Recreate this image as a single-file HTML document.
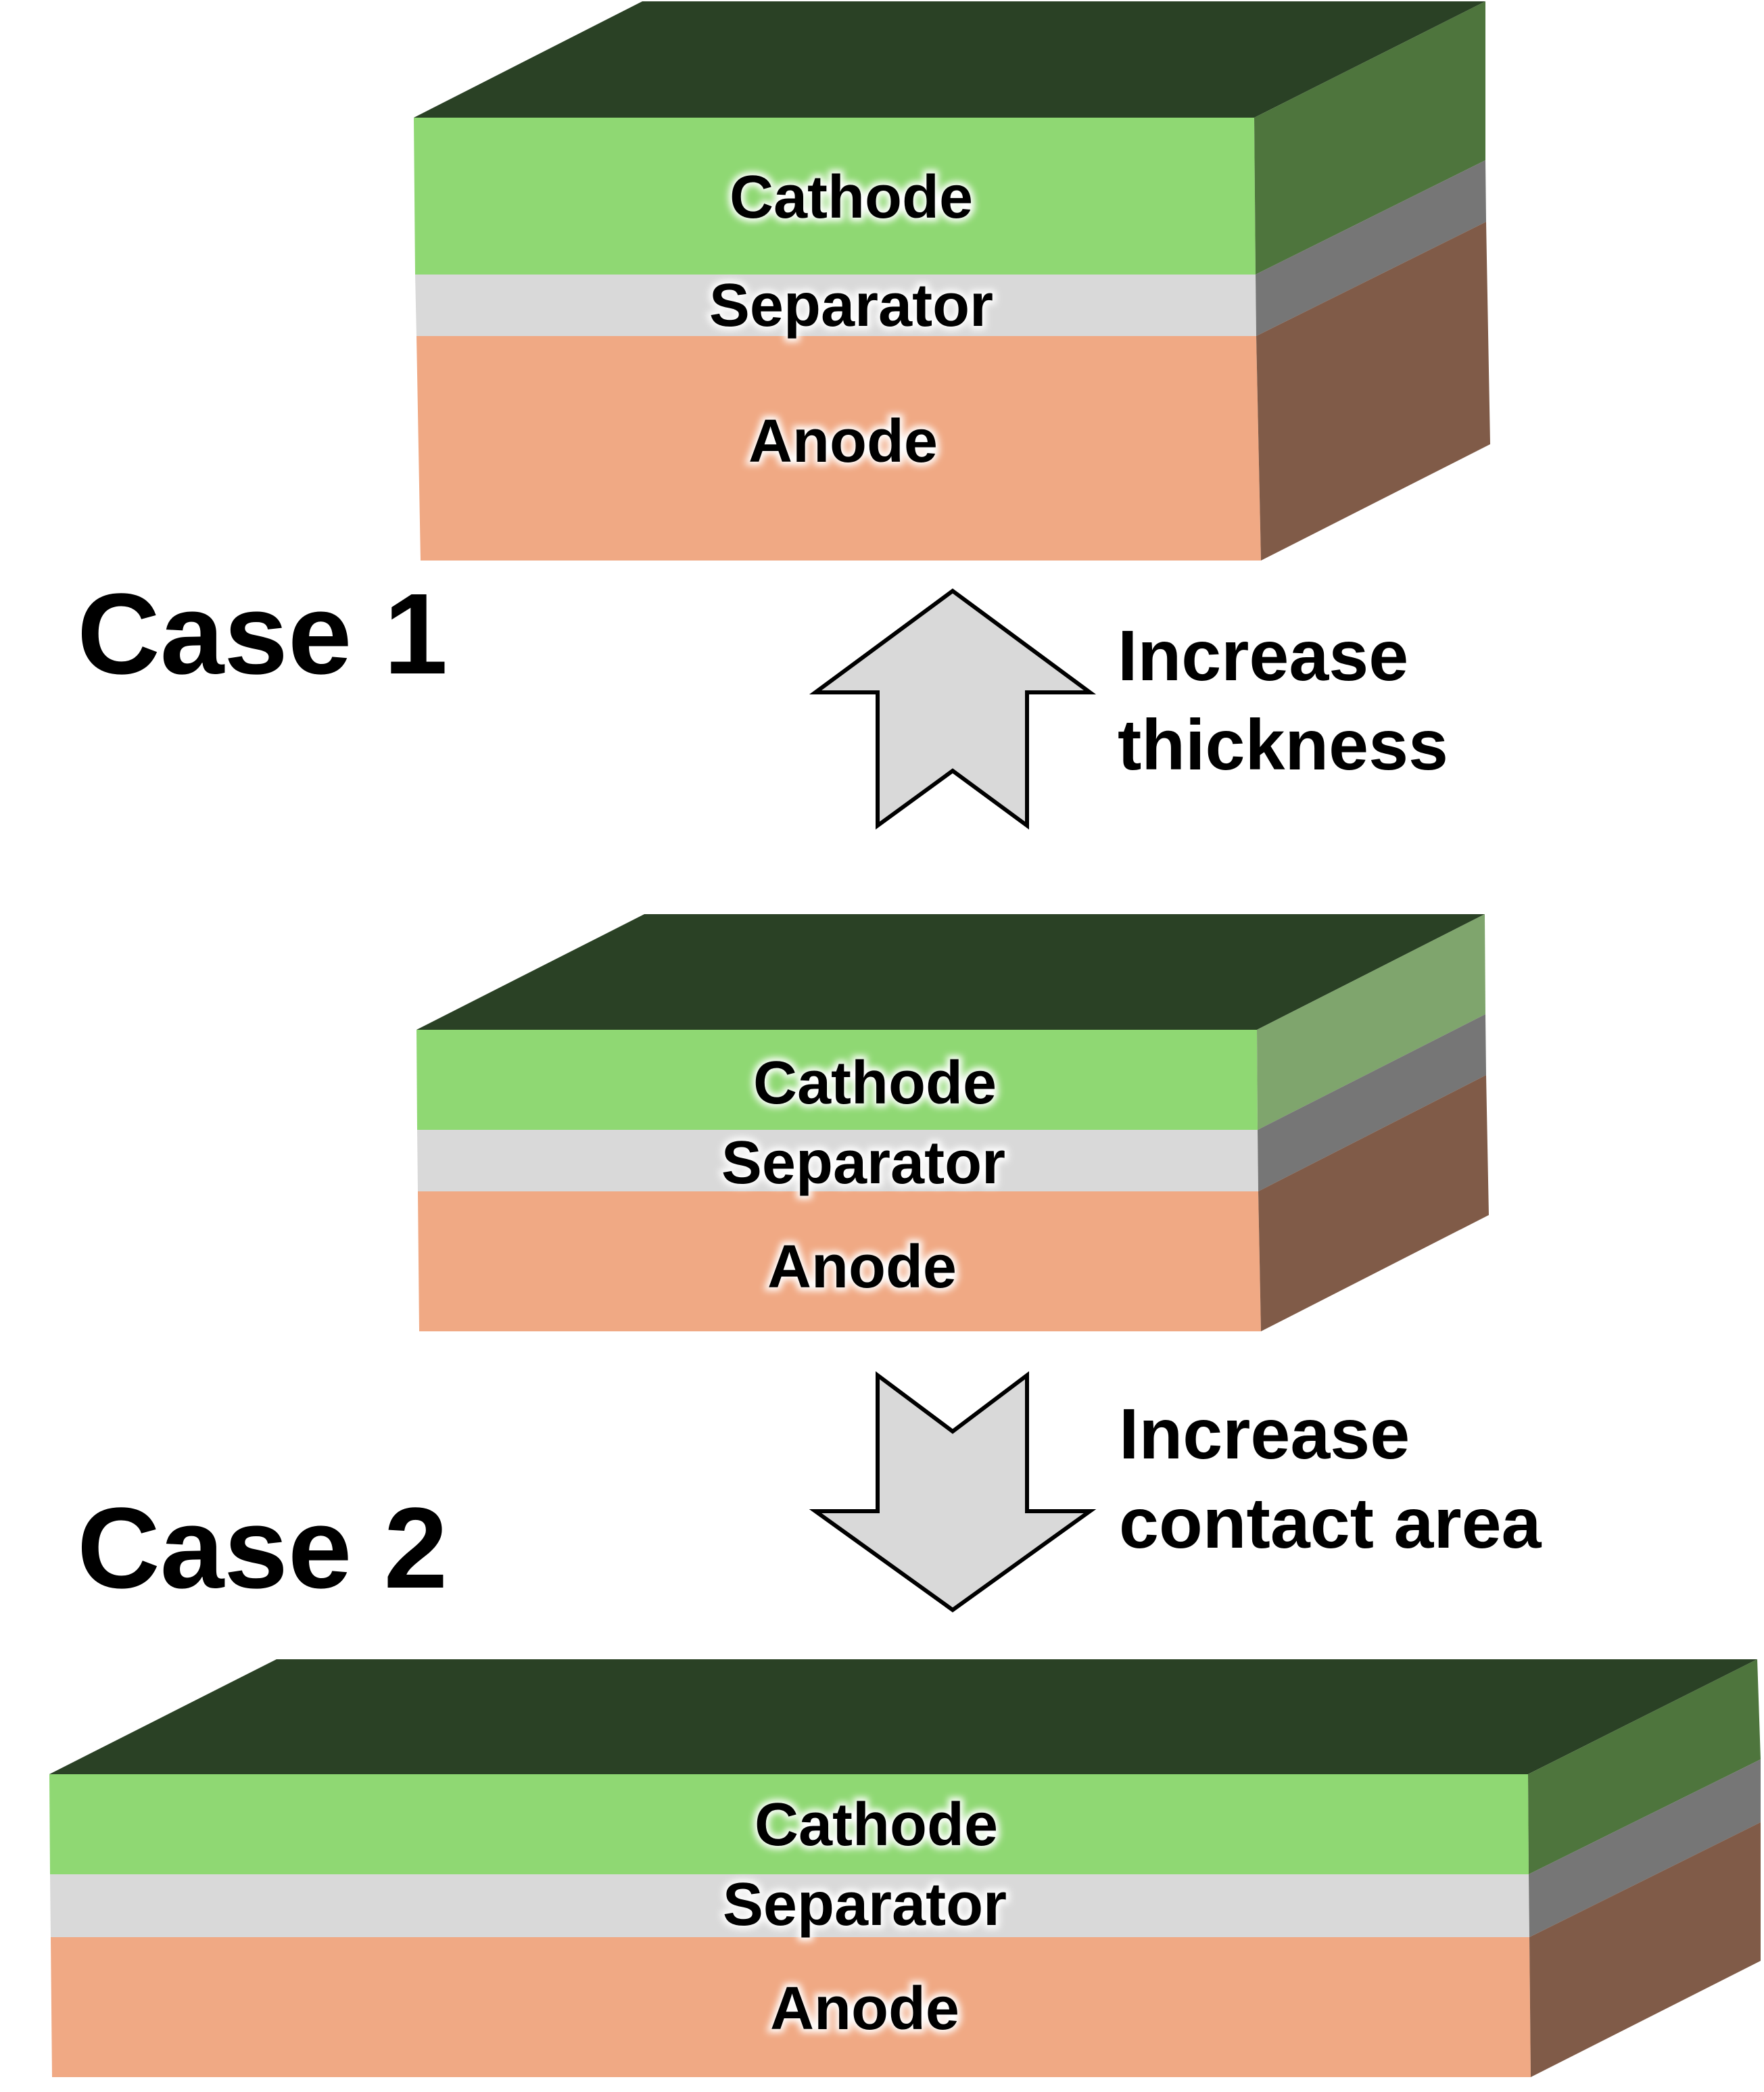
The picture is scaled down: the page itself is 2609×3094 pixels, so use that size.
<!DOCTYPE html>
<html><head><meta charset="utf-8"><style>
html,body{margin:0;padding:0;background:#fff;}
svg{display:block;}
text{font-family:"Liberation Sans",Arial,sans-serif;font-weight:bold;}
.g{fill:#fff;stroke:#fff;stroke-width:10;filter:url(#blur);}
.lb{font-size:90px;text-anchor:middle;}
</style></head><body>
<svg width="2609" height="3094" viewBox="0 0 2609 3094" xmlns="http://www.w3.org/2000/svg">
<defs><filter id="blur" x="-20%" y="-50%" width="140%" height="200%"><feGaussianBlur stdDeviation="5"/></filter></defs>

<!-- Top block -->
<polygon points="612,174 950,2 2197,2 1855,174" fill="#2a4125"/>
<polygon points="612,174 1855,174 1857,406 614,406" fill="#8fd873"/>
<polygon points="614,406 1857,406 1858,497 616,497" fill="#d9d9d9"/>
<polygon points="616,497 1858,497 1865,829 622,829" fill="#f0a984"/>
<polygon points="1855,174 2197,2 2197,237 1857,406" fill="#4e753d"/>
<polygon points="1857,406 2197,237 2198,328 1858,497" fill="#767676"/>
<polygon points="1858,497 2198,328 2204,657 1865,829" fill="#805b48"/>

<!-- Middle block -->
<polygon points="616,1523 953,1352 2196,1352 1859,1523" fill="#2a4125"/>
<polygon points="616,1523 1859,1523 1860,1671 617,1671" fill="#8fd873"/>
<polygon points="617,1671 1860,1671 1861,1762 618,1762" fill="#d9d9d9"/>
<polygon points="618,1762 1861,1762 1865,1969 620,1969" fill="#f0a984"/>
<polygon points="1859,1523 2196,1352 2197,1500 1860,1671" fill="#7fa56d"/>
<polygon points="1860,1671 2197,1500 2198,1590 1861,1762" fill="#767676"/>
<polygon points="1861,1762 2198,1590 2202,1797 1865,1969" fill="#805b48"/>

<!-- Bottom block -->
<polygon points="73,2624 409,2454 2599,2454 2260,2624" fill="#2a4125"/>
<polygon points="73,2624 2260,2624 2261,2772 74,2772" fill="#8fd873"/>
<polygon points="74,2772 2261,2772 2262,2865 75,2865" fill="#d9d9d9"/>
<polygon points="75,2865 2262,2865 2264,3072 77,3072" fill="#f0a984"/>
<polygon points="2260,2624 2599,2454 2604,2602 2261,2772" fill="#4e753d"/>
<polygon points="2261,2772 2604,2602 2604,2695 2262,2865" fill="#767676"/>
<polygon points="2262,2865 2604,2695 2604,2900 2264,3072" fill="#805b48"/>

<!-- Arrows -->
<polygon points="1409,874 1612,1024 1519,1024 1519,1221 1409,1140 1298,1221 1298,1024 1206,1024" fill="#d9d9d9" stroke="#000" stroke-width="6" stroke-linejoin="miter"/>
<polygon points="1298,2034 1409,2117 1519,2034 1519,2235 1612,2235 1409,2381 1206,2235 1298,2235" fill="#d9d9d9" stroke="#000" stroke-width="6" stroke-linejoin="miter"/>

<!-- Big labels -->
<text x="114" y="996" font-size="170">Case 1</text>
<text x="114" y="2348" font-size="170">Case 2</text>
<text x="1653" y="1006" font-size="106">Increase</text>
<text x="1653" y="1138" font-size="106">thickness</text>
<text x="1655" y="2157" font-size="106">Increase</text>
<text x="1655" y="2289" font-size="106">contact area</text>

<!-- Glow labels -->
<g class="lb">
<text class="g" x="1259" y="322">Cathode</text><text x="1259" y="322">Cathode</text>
<text class="g" x="1259" y="482">Separator</text><text x="1259" y="482">Separator</text>
<text class="g" x="1247" y="683">Anode</text><text x="1247" y="683">Anode</text>

<text class="g" x="1294" y="1632">Cathode</text><text x="1294" y="1632">Cathode</text>
<text class="g" x="1277" y="1750">Separator</text><text x="1277" y="1750">Separator</text>
<text class="g" x="1275" y="1904">Anode</text><text x="1275" y="1904">Anode</text>

<text class="g" x="1296" y="2729">Cathode</text><text x="1296" y="2729">Cathode</text>
<text class="g" x="1279" y="2847">Separator</text><text x="1279" y="2847">Separator</text>
<text class="g" x="1279" y="3001">Anode</text><text x="1279" y="3001">Anode</text>
</g>
</svg>
</body></html>
